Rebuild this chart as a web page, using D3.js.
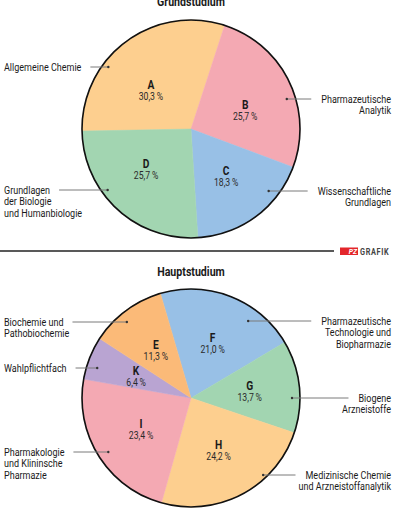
<!DOCTYPE html>
<html>
<head>
    <meta charset="utf-8">
    <script src="https://d3js.org/d3.v7.min.js"></script>
    <style>
        body { margin: 0; background: #fff; }
        svg { display: block; font-family: Roboto, "Liberation Sans", sans-serif; }
    </style>
</head>
<body>
    <svg id="svg"></svg>
<script>
    // Grundstudium
    const grundKeys = ["A", "B", "C", "D"];
    const grundValues = [30.3, 25.7, 18.3, 25.7];
    const grundNames = [
        ["Allgemeine Chemie"],
        ["Pharmazeutische", "Analytik"],
        ["Wissenschaftliche", "Grundlagen"],
        ["Grundlagen", "der Biologie", "und Humanbiologie"]
    ];

    // Hauptstudium
    const hauptKeys = ["F", "G", "H", "I", "K", "E"];
    const hauptValues = [21.0, 13.7, 24.2, 23.4, 6.4, 11.3];
    const hauptNames = [
        ["Pharmazeutische", "Technologie und", "Biopharmazie"],
        ["Biogene", "Arzneistoffe"],
        ["Medizinische Chemie", "und Arzneistoffanalytik"],
        ["Pharmakologie", "und Klininsche", "Pharmazie"],
        ["Wahlpflichtfach"],
        ["Biochemie und", "Pathobiochemie"]
    ];

    const colors = {
        A: "#fdcf8f", B: "#f4a9b3", C: "#98c0e6", D: "#a2d5b1",
        E: "#fbba78", F: "#98c0e6", G: "#a2d5b1", H: "#fdcf8f", I: "#f4a9b3", K: "#b9a4d2"
    };

    // callout layout: line y offset from pie centre, how far the line reaches into the slice
    const callout = {
        A: [-62, 7], B: [-30, 9], C: [62, 12], D: [61, 7],
        F: [-77, 20], G: [0, 8], H: [77, 5], I: [54, 12], K: [-30, 11], E: [-76, 14]
    };
    // small nudges of the inner labels
    const nudge = { A: [-5, 9], B: [1, 7], D: [-5, -3] };

    const width = 397, height = 514;
    const radius = 109;
    const squeeze = 0.85; // condensed look of the print font
    const svg = d3.select("#svg").attr("width", width).attr("height", height);
    svg.append("rect").attr("width", width).attr("height", height).attr("fill", "#fff");

    const pct = v => d3.format(".1f")(v).replace(".", ",") + "\u2009%";
    const deg = Math.PI / 180;

    // text squeezed horizontally around its anchor point
    function ctext(parent, x, y, anchor, size, weight) {
        return parent.append("g")
            .attr("transform", `translate(${x},${y}) scale(${squeeze},1)`)
            .append("text")
            .attr("text-anchor", anchor)
            .attr("font-size", size)
            .attr("font-weight", weight || "normal")
            .attr("fill", "#1a1a1a");
    }

    function drawPie(title, titleY, cx, cy, keys, values, names, start) {
        ctext(svg, cx, titleY, "middle", 12.5, "bold").text(title);

        const pie = d3.pie().sort(null).value(d => d)
            .startAngle(start).endAngle(start + 2 * Math.PI);
        const arcs = pie(values);
        const arc = d3.arc().innerRadius(0).outerRadius(radius);
        const labelArc = d3.arc().innerRadius(59).outerRadius(59);

        const g = svg.append("g").attr("transform", `translate(${cx},${cy})`);

        g.selectAll("path.slice")
            .data(arcs)
            .enter()
            .append("path")
            .attr("class", "slice")
            .attr("d", arc)
            .attr("fill", (d, i) => colors[keys[i]])
            .attr("stroke", (d, i) => colors[keys[i]])
            .attr("stroke-width", 0.5);

        g.append("circle")
            .attr("r", radius)
            .attr("fill", "none")
            .attr("stroke", "#111")
            .attr("stroke-width", 1.6);

        arcs.forEach((d, i) => {
            const c = labelArc.centroid(d);
            const n = nudge[keys[i]] || [0, 0];
            const lx = c[0] + n[0], ly = c[1] + n[1];
            ctext(g, lx, ly - 1.5, "middle", 12, "bold").text(keys[i]);
            ctext(g, lx, ly + 9.5, "middle", 10.2, "normal").attr("fill", "#2a2a2a").text(pct(d.data));
        });

        // callouts
        arcs.forEach((d, i) => {
            const key = keys[i];
            const [dy, inset] = callout[key];
            const left = labelArc.centroid(d)[0] < 0;
            const tx = left ? 4 : 391;
            const t = ctext(svg, tx, cy + dy + 3.7, left ? "start" : "end", 10.6, "normal");
            names[i].forEach((s, j) => {
                t.append("tspan").attr("x", 0).attr("dy", j ? 11.8 : 0).text(s);
            });
            const w = t.select("tspan").node().getComputedTextLength() * squeeze;
            const edge = Math.sqrt(radius * radius - dy * dy) - inset;
            const x1 = left ? cx - edge : cx + edge;
            const x2 = left ? tx + w + 9 : tx - w - 10;
            svg.append("line")
                .attr("x1", x1).attr("x2", x2)
                .attr("y1", cy + dy).attr("y2", cy + dy)
                .attr("stroke", "#7a7a7a")
                .attr("stroke-width", 1);
            svg.append("circle")
                .attr("cx", x1).attr("cy", cy + dy)
                .attr("r", 1.2)
                .attr("fill", "#333");
        });
    }

    drawPie("Grundstudium", 6, 191, 129, grundKeys, grundValues, grundNames, -91.1 * deg);
    drawPie("Hauptstudium", 276, 191, 398, hauptKeys, hauptValues, hauptNames, -16.3 * deg);

    // separator and logo
    svg.append("line")
        .attr("x1", 0).attr("x2", 334)
        .attr("y1", 251).attr("y2", 251)
        .attr("stroke", "#222")
        .attr("stroke-width", 1.5);
    svg.append("rect")
        .attr("x", 340).attr("y", 247.5)
        .attr("width", 18).attr("height", 7.5)
        .attr("fill", "#e3262b");
    ctext(svg, 357, 254.3, "end", 8, "bold")
        .attr("font-style", "italic")
        .attr("fill", "#fff")
        .text("PZ");
    ctext(svg, 360, 255, "start", 8.6, "bold")
        .attr("letter-spacing", 0.8)
        .attr("fill", "#444")
        .text("GRAFIK");
</script>
</body>
</html>
